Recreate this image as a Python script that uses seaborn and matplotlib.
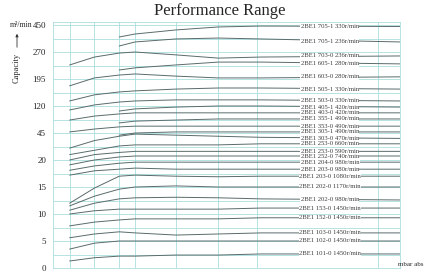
import numpy as np
import pandas as pd
import matplotlib
matplotlib.use("Agg")
import matplotlib.pyplot as plt
import seaborn as sns

# capacity axis ticks (m3/min) - axis is piecewise, equal spacing per tick
ytick_vals = [0, 5, 10, 15, 20, 45, 120, 195, 270, 450]
ytick_labels = ["0", "5", "10", "15", "20", "45", "120", "195", "270", "450"]

# suction pressure points (mbar abs) where the curves were read
mbar = [80, 150, 220, 265, 380, 500, 620, 1013]
xgrid = [80, 150, 220, 265, 380, 500, 610, 950]

models = [
    "2BE1 705-1 330r/min", "2BE1 705-1 236r/min", "2BE1 703-0 236r/min",
    "2BE1 605-1 280r/min", "2BE1 603-0 280r/min", "2BE1 505-1 330r/min",
    "2BE1 503-0 330r/min", "2BE1 405-1 420r/min", "2BE1 403-0 420r/min",
    "2BE1 355-1 490r/min", "2BE1 353-0 490r/min", "2BE1 305-1 490r/min",
    "2BE1 303-0 470r/min", "2BE1 253-0 660r/min", "2BE1 253-0 590r/min",
    "2BE1 252-0 740r/min", "2BE1 204-0 980r/min", "2BE1 203-0 980r/min",
    "2BE1 203-0 1080r/min", "2BE1 202-0 1170r/min", "2BE1 202-0 980r/min",
    "2BE1 153-0 1450r/min", "2BE1 152-0 1450r/min", "2BE1 103-0 1450r/min",
    "2BE1 102-0 1450r/min", "2BE1 101-0 1450r/min",
]

nan = np.nan
capacity = [
    [nan, nan, 370, 390, 417, 437, 443, 440],
    [nan, nan, 310, 337, 357, 363, 357, 337],
    [234, 256, 267, 270, 262, 253, 256, 259],
    [nan, nan, 220, 226, 234, 242, 242, 237],
    [176, 198, 206, 209, 203, 198, 198, 201],
    [134, 151, 159, 162, 167, 170, 170, 167],
    [109, 123, 131, 134, 137, 137, 137, 134],
    [nan, nan, 106, 112, 117, 120, 120, 117],
    [81, 92, 98, 101, 101, 101, 101, 101],
    [nan, nan, 73, 78, 81, 84, 84, 84],
    [48, 56, 62, 64, 64, 64, 64, 64],
    [nan, nan, 43, 45, 48, 48, 48, 48],
    [31, 38, 42, 44, 43, 42, 41, 40],
    [25, 29, 33, 34, 34, 34, 35, 35],
    [20, 25, 27, 28, 28, 28, 28, 28],
    [19.1, 20, 22.8, 23.7, 23.7, 23.7, 23.7, 23.7],
    [18.1, 18.9, 19.4, 19.6, 19.6, 19.6, 19.6, 19.6],
    [17.2, 18.0, 18.3, 18.5, 18.3, 18.3, 18.3, 18.3],
    [12.0, 14.8, 17.0, 17.2, 17.0, 16.9, 17.0, 17.0],
    [11.5, 13.3, 14.6, 15.0, 15.2, 15.0, 15.0, 15.0],
    [10.7, 12.0, 12.8, 13.0, 13.1, 13.0, 12.8, 12.6],
    [10.0, 10.6, 10.9, 10.9, 10.9, 10.9, 11.1, 11.1],
    [7.8, 8.5, 8.9, 9.1, 9.1, 9.1, 9.3, 9.3],
    [5.6, 6.3, 6.7, 6.5, 6.1, 6.3, 6.5, 6.5],
    [3.5, 4.6, 5.0, 5.0, 5.0, 5.0, 5.0, 5.0],
    [1.3, 1.9, 2.2, 2.2, 2.4, 2.4, 2.6, 2.6],
]

# long table for seaborn
rows = []
for name, caps in zip(models, capacity):
    for x, c in zip(mbar, caps):
        if not np.isnan(c):
            rows.append({"model": name, "mbar": x, "cap": c})
df = pd.DataFrame(rows)

sns.set_style("white")
plt.rcParams["font.family"] = ["Liberation Serif", "DejaVu Serif"]

grid_col = "#a9dede"
line_col = "#5a6b6b"

# piecewise scale: each tick step gets the same height
knots = ytick_vals + [630]
pos = np.arange(len(knots), dtype=float)
fwd = lambda v: np.interp(v, knots, pos)
inv = lambda p: np.interp(p, pos, knots)

fig = plt.figure(figsize=(4.37, 2.72), dpi=100)
ax = fig.add_axes([53 / 437, 4 / 272, 347 / 437, 246 / 272])
ax.set_yscale("function", functions=(fwd, inv))

sns.lineplot(data=df, x="mbar", y="cap", units="model", estimator=None,
             color=line_col, lw=0.7, ax=ax, legend=False)

ax.set_xlim(33, 1013)
ax.set_ylim(0, 470)
ax.set_yticks(ytick_vals)
ax.set_yticklabels(ytick_labels, fontsize=6.5)
half = [inv(p + 0.5) for p in range(9)]
ax.set_yticks(half, minor=True)
ax.set_xticks(xgrid)
ax.set_xticklabels([])
ax.tick_params(axis="both", which="both", length=0, pad=5)
ax.grid(True, which="both", color=grid_col, lw=0.6)
ax.set_xlabel("")
ax.set_ylabel("")
for s in ax.spines.values():
    s.set_color(grid_col)
    s.set_linewidth(0.6)

# model labels sitting on the curves
for name, caps in zip(models, capacity):
    ax.text(815, caps[-1], name, fontsize=4.8, ha="center", va="center",
            color="#3a3a3a",
            bbox=dict(facecolor="white", edgecolor="none", pad=0.3))

fig.text(220 / 437, 1 - 11 / 272, "Performance Range", fontsize=12,
         ha="center", va="center")
fig.text(32 / 437, 1 - 25 / 272, "m³/min", fontsize=5.5, ha="right",
         va="center")
fig.text(17 / 437, 1 - 68 / 272, "Capacity", fontsize=6, rotation=90,
         ha="center", va="center")
ax.annotate("", xy=(17 / 437, 1 - 31 / 272), xytext=(17 / 437, 1 - 50 / 272),
            xycoords="figure fraction", textcoords="figure fraction",
            arrowprops=dict(arrowstyle="-|>", color="#333333", lw=0.6,
                            mutation_scale=4))
fig.text(398 / 437, 1 - 264 / 272, "mbar abs", fontsize=5, ha="left",
         va="center")

fig.savefig("out.png", dpi=100)
